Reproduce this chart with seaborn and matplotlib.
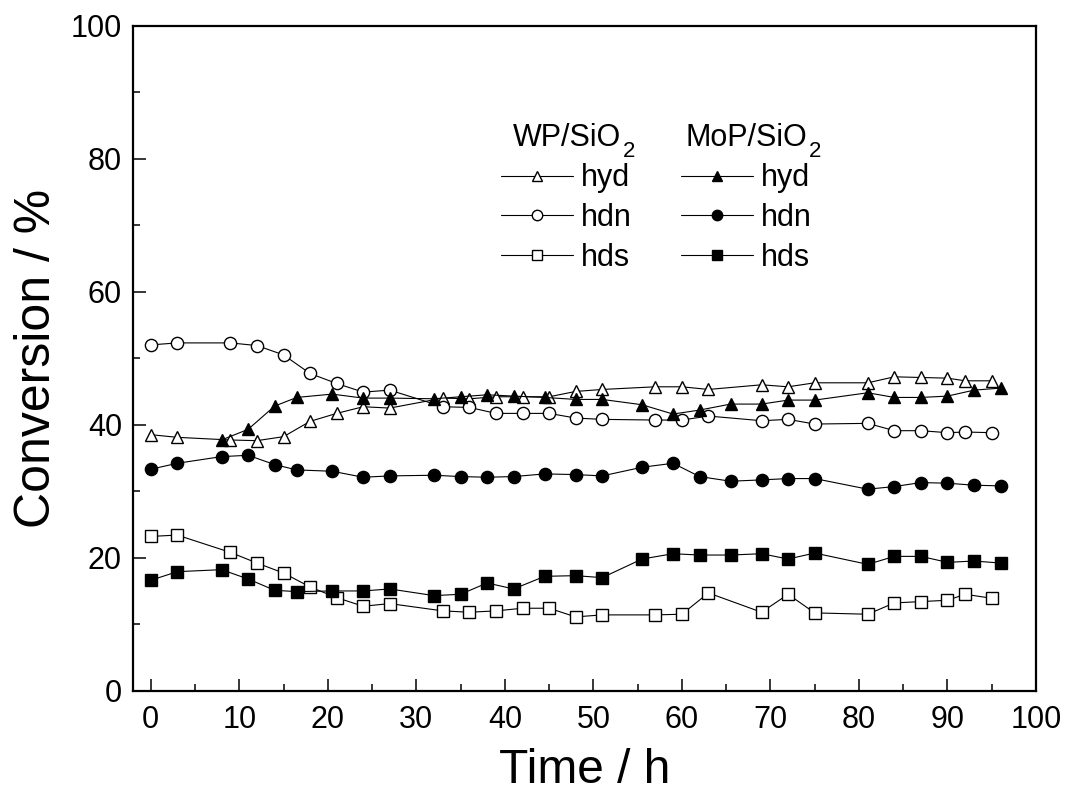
import matplotlib
matplotlib.use("Agg")
import matplotlib.pyplot as plt
import seaborn as sns
import pandas as pd
from matplotlib.lines import Line2D
from matplotlib.ticker import MultipleLocator

# ---- data ----
time_wp = [0, 3, 9, 12, 15, 18, 21, 24, 27, 33, 36, 39, 42, 45, 48, 51, 57, 60, 63,
           69, 72, 75, 81, 84, 87, 90, 92, 95]
wp_hyd = [38.5, 38.1, 37.7, 37.6, 38.2, 40.5, 41.7, 42.7, 42.5, 44.0, 43.9, 44.2, 44.2,
          44.2, 45.0, 45.3, 45.7, 45.7, 45.3, 46.0, 45.7, 46.3, 46.3, 47.2, 47.1, 47.0,
          46.6, 46.6]
wp_hdn = [52.0, 52.3, 52.3, 51.9, 50.5, 47.7, 46.2, 44.9, 45.2, 42.7, 42.6, 41.7, 41.7,
          41.7, 41.0, 40.8, 40.7, 40.7, 41.3, 40.6, 40.8, 40.1, 40.2, 39.1, 39.1, 38.8,
          38.9, 38.8]
wp_hds = [23.2, 23.4, 20.8, 19.2, 17.7, 15.6, 14.0, 12.7, 13.1, 12.0, 11.8, 12.0, 12.4,
          12.4, 11.1, 11.4, 11.4, 11.5, 14.7, 11.8, 14.5, 11.7, 11.5, 13.2, 13.4, 13.6,
          14.5, 13.9]

time_mop = [0, 3, 8, 11, 14, 16.5, 20.5, 24, 27, 32, 35, 38, 41, 44.5, 48, 51, 55.5, 59,
            62, 65.5, 69, 72, 75, 81, 84, 87, 90, 93, 96]
time_mop_hyd = time_mop[2:]
mop_hyd = [37.7, 39.3, 42.8, 44.1, 44.6, 44.0, 44.0, 43.9, 44.2, 44.5, 44.3, 44.1, 43.8,
           43.8, 43.0, 41.6, 42.2, 43.1, 43.1, 43.7, 43.7, 44.8, 44.1, 44.1, 44.3, 45.2,
           45.5]
mop_hdn = [33.3, 34.2, 35.2, 35.4, 34.0, 33.2, 33.0, 32.1, 32.3, 32.4, 32.2, 32.1, 32.2,
           32.6, 32.5, 32.3, 33.6, 34.2, 32.2, 31.5, 31.7, 31.9, 31.9, 30.3, 30.7, 31.3,
           31.2, 30.9, 30.8]
mop_hds = [16.6, 17.9, 18.2, 16.8, 15.1, 14.9, 15.0, 15.0, 15.3, 14.3, 14.5, 16.2, 15.3,
           17.2, 17.3, 17.0, 19.8, 20.6, 20.4, 20.4, 20.6, 19.8, 20.7, 19.0, 20.2, 20.2,
           19.3, 19.5, 19.2]

x_ticks = [0, 10, 20, 30, 40, 50, 60, 70, 80, 90, 100]
y_ticks = [0, 20, 40, 60, 80, 100]
labels = ["hyd", "hdn", "hds"]
catalysts = ["WP/SiO", "MoP/SiO"]  # followed by subscript 2

# ---- style ----
sns.set_theme(style="ticks")
plt.rcParams["font.family"] = ["Liberation Sans", "DejaVu Sans"]
for k in ["text.color", "axes.labelcolor", "xtick.color", "ytick.color", "axes.edgecolor"]:
    plt.rcParams[k] = "black"
plt.rcParams["xtick.direction"] = "in"
plt.rcParams["ytick.direction"] = "in"

fig = plt.figure(figsize=(10.67, 7.99), dpi=100)
ax = fig.add_axes([133 / 1067, 1 - 690.7 / 799, 903 / 1067, 665 / 799])

lw = 0.8
ms = 8.8
series = [
    (time_wp, wp_hyd, "^", "white"),
    (time_wp, wp_hdn, "o", "white"),
    (time_wp, wp_hds, "s", "white"),
    (time_mop_hyd, mop_hyd, "^", "black"),
    (time_mop, mop_hdn, "o", "black"),
    (time_mop, mop_hds, "s", "black"),
]
for t, v, m, fc in series:
    df = pd.DataFrame({"t": t, "v": v})
    sns.lineplot(data=df, x="t", y="v", ax=ax, color="black", linewidth=lw,
                 marker=m, markersize=ms if m != "s" else ms * 0.95,
                 markerfacecolor=fc, markeredgecolor="black", markeredgewidth=1.0,
                 estimator=None, sort=False)

ax.set_xlim(-2, 100)
ax.set_ylim(0, 100)
ax.set_xticks(x_ticks)
ax.set_yticks(y_ticks)
ax.xaxis.set_minor_locator(MultipleLocator(5))
ax.yaxis.set_minor_locator(MultipleLocator(10))
ax.tick_params(which="major", direction="in", length=9, width=1.1, labelsize=22,
               pad=8, colors="black")
ax.tick_params(which="minor", direction="in", length=5, width=1.1, colors="black")
ax.tick_params(axis="x", which="major", pad=10)
for s in ax.spines.values():
    s.set_linewidth(1.6)
    s.set_color("black")
ax.set_xlabel("Time / h", fontsize=34.5, labelpad=10)
ax.set_ylabel("Conversion / %", fontsize=36, labelpad=8)

# ---- legends ----
def handles(fc):
    return [Line2D([], [], color="black", linewidth=lw, marker=m,
                   markersize=7.5 if m != "s" else 7,
                   markerfacecolor=fc, markeredgecolor="black", markeredgewidth=1.0)
            for m in ["^", "o", "s"]]

common = dict(frameon=False, fontsize=22, title_fontsize=22, handlelength=2.35,
              handletextpad=0.25, labelspacing=0.32, borderpad=0, borderaxespad=0,
              loc="upper left")
leg1 = ax.legend(handles(fc="white"), labels, title=catalysts[0],
                 bbox_to_anchor=(0.408, 0.853), **common)
ax.add_artist(leg1)
leg2 = ax.legend(handles(fc="black"), labels, title=catalysts[1],
                 bbox_to_anchor=(0.607, 0.853), **common)
for leg in (leg1, leg2):
    ax.annotate("2", xy=(1, 0), xycoords=leg.get_title(), xytext=(1.5, 1.5),
                textcoords="offset points", fontsize=16, va="center", ha="left",
                zorder=10)

fig.savefig("out.png", dpi=100)
